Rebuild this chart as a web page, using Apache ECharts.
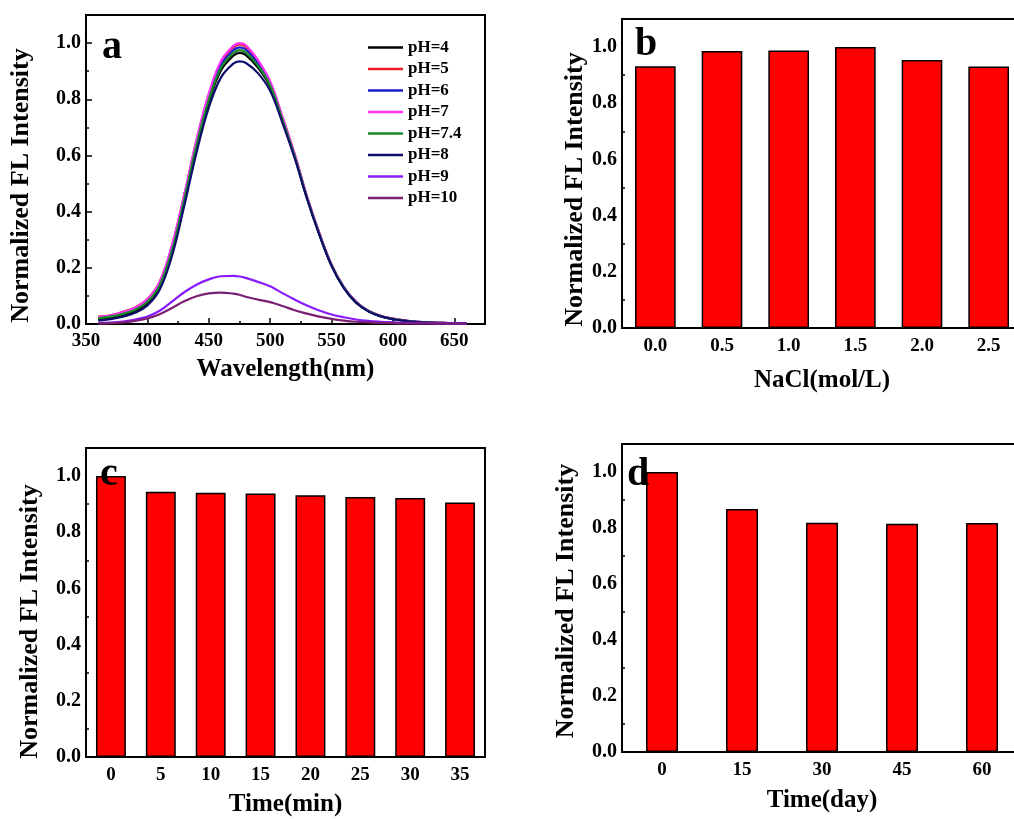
<!DOCTYPE html>
<html>
<head>
<meta charset="utf-8">
<script src="https://cdn.jsdelivr.net/npm/echarts@6/dist/echarts.min.js"></script>
<style>
  html, body { margin: 0; padding: 0; background: #fff; }
  #container { width: 1014px; height: 819px; }
</style>
</head>
<body>
<div id="container"></div>
<script>
// panel a: FL spectra at different pH
var wavelength = [360, 370, 380, 390, 400, 410, 420, 430, 440, 450, 460, 470, 475, 480, 490, 500,
    510, 520, 530, 540, 550, 560, 570, 580, 590, 600, 610, 620, 630, 640, 650, 660];
var pH4 = [0.016, 0.021, 0.031, 0.046, 0.073, 0.132, 0.255, 0.435, 0.628, 0.790, 0.903, 0.955, 0.965, 0.958, 0.913, 0.845,
    0.725, 0.596, 0.449, 0.320, 0.208, 0.129, 0.077, 0.046, 0.028, 0.018, 0.011, 0.007, 0.005, 0.004, 0.003, 0.002];
var pH5 = [0.026, 0.031, 0.043, 0.059, 0.089, 0.150, 0.278, 0.458, 0.652, 0.816, 0.932, 0.985, 0.995, 0.988, 0.936, 0.860,
    0.735, 0.603, 0.453, 0.324, 0.211, 0.131, 0.078, 0.047, 0.029, 0.019, 0.012, 0.008, 0.005, 0.004, 0.003, 0.002];
var pH6 = [0.022, 0.028, 0.039, 0.055, 0.084, 0.145, 0.272, 0.452, 0.645, 0.808, 0.922, 0.975, 0.985, 0.978, 0.928, 0.855,
    0.731, 0.600, 0.451, 0.322, 0.210, 0.130, 0.078, 0.046, 0.028, 0.018, 0.012, 0.008, 0.005, 0.004, 0.003, 0.002];
var pH7 = [0.025, 0.030, 0.042, 0.058, 0.088, 0.150, 0.280, 0.460, 0.655, 0.820, 0.937, 0.990, 1.000, 0.993, 0.940, 0.864,
    0.738, 0.605, 0.455, 0.325, 0.212, 0.132, 0.079, 0.047, 0.029, 0.019, 0.012, 0.008, 0.005, 0.004, 0.003, 0.002];
var pH74 = [0.020, 0.026, 0.036, 0.051, 0.079, 0.138, 0.262, 0.443, 0.636, 0.798, 0.912, 0.965, 0.975, 0.968, 0.920, 0.850,
    0.728, 0.598, 0.450, 0.321, 0.209, 0.130, 0.077, 0.046, 0.028, 0.018, 0.011, 0.007, 0.005, 0.004, 0.003, 0.002];
var pH8 = [0.012, 0.017, 0.026, 0.040, 0.066, 0.122, 0.242, 0.420, 0.610, 0.770, 0.878, 0.927, 0.935, 0.930, 0.893, 0.830,
    0.716, 0.590, 0.446, 0.318, 0.207, 0.128, 0.076, 0.045, 0.027, 0.017, 0.011, 0.007, 0.005, 0.003, 0.002, 0.002];
var pH9 = [0.003, 0.005, 0.009, 0.016, 0.027, 0.047, 0.080, 0.113, 0.140, 0.159, 0.170, 0.171, 0.169, 0.164, 0.150, 0.134,
    0.110, 0.087, 0.066, 0.048, 0.034, 0.024, 0.016, 0.011, 0.008, 0.006, 0.004, 0.003, 0.003, 0.002, 0.002, 0.002];
var pH10 = [0.002, 0.003, 0.006, 0.011, 0.020, 0.035, 0.057, 0.081, 0.099, 0.109, 0.112, 0.108, 0.104, 0.097, 0.087, 0.078,
    0.064, 0.049, 0.037, 0.026, 0.018, 0.012, 0.008, 0.006, 0.004, 0.003, 0.002, 0.002, 0.002, 0.001, 0.001, 0.001];
var phNames = ['pH=4', 'pH=5', 'pH=6', 'pH=7', 'pH=7.4', 'pH=8', 'pH=9', 'pH=10'];
var phColors = ['#000000', '#ee1c25', '#1c1ccc', '#ff33ff', '#1a8a2a', '#0d0d6b', '#8a1aff', '#7a1f73'];
var phSeries = [pH4, pH5, pH6, pH7, pH74, pH8, pH9, pH10];

// panel b: NaCl
var naclConc = ['0.0', '0.5', '1.0', '1.5', '2.0', '2.5'];
var naclFL = [0.932, 0.986, 0.988, 1.000, 0.954, 0.931];

// panel c: time (min)
var timeMin = ['0', '5', '10', '15', '20', '25', '30', '35'];
var timeMinFL = [1.000, 0.944, 0.941, 0.938, 0.932, 0.926, 0.922, 0.906];

// panel d: time (day)
var timeDay = ['0', '15', '30', '45', '60'];
var timeDayFL = [1.000, 0.868, 0.819, 0.815, 0.818];

var FONT = 'Liberation Serif';
var black = '#000';

function txt(size) {
    return { fontFamily: FONT, fontWeight: 'bold', fontSize: size, color: black };
}

function yAxisOpt(gi, gap, shift) {
    return {
        type: 'value', gridIndex: gi, min: 0, max: 1.1, interval: 0.2,
        name: 'Normalized FL Intensity', nameLocation: 'middle', nameGap: gap,
        nameTextStyle: Object.assign(txt(26), { padding: [0, shift * 2, 0, 0] }),
        axisLine: { show: true, lineStyle: { color: black, width: 2 } },
        axisTick: { inside: true, length: 6, lineStyle: { color: black, width: 1.5 } },
        minorTick: { show: true, splitNumber: 2, length: 3, lineStyle: { color: black, width: 1.5 } },
        axisLabel: Object.assign(txt(20), {
            margin: 5,
            formatter: function (v) { return v > 1.05 ? '' : v.toFixed(1); }
        }),
        splitLine: { show: false }
    };
}

function catAxisOpt(gi, cats, name, gap) {
    return {
        type: 'category', gridIndex: gi, data: cats,
        name: name, nameLocation: 'middle', nameGap: gap,
        nameTextStyle: txt(25),
        axisLine: { lineStyle: { color: black, width: 2 } },
        axisTick: { inside: true, length: 4, lineStyle: { color: black, width: 1.5 } },
        axisLabel: Object.assign(txt(19), { margin: 9 }),
        splitLine: { show: false }
    };
}

function barSeries(gi, values, gap) {
    return {
        type: 'bar', xAxisIndex: gi, yAxisIndex: gi, data: values,
        barCategoryGap: gap,
        itemStyle: { color: '#ff0000', borderColor: black, borderWidth: 1.5 }
    };
}

var grids = [
    { left: 86, top: 15, width: 399, height: 309 },
    { left: 622, top: 19, width: 400, height: 309 },
    { left: 86, top: 448, width: 399, height: 309 },
    { left: 622, top: 444, width: 400, height: 308 }
].map(function (g) {
    return Object.assign(g, { show: true, borderColor: black, borderWidth: 2, outerBoundsMode: 'none' });
});

var series = phSeries.map(function (arr, i) {
    return {
        type: 'line', name: phNames[i], xAxisIndex: 0, yAxisIndex: 0,
        data: wavelength.map(function (w, j) { return [w, arr[j]]; }),
        smooth: 0.4, symbol: 'none',
        lineStyle: { color: phColors[i], width: 2.2 },
        itemStyle: { color: phColors[i] }
    };
});
series.push(barSeries(1, naclFL, '39%'));
series.push(barSeries(2, timeMinFL, '40%'));
series.push(barSeries(3, timeDayFL, '60%'));

var option = {
    animation: false,
    backgroundColor: '#fff',
    title: [
        { text: 'a', left: 102, top: 28 },
        { text: 'b', left: 635, top: 25 },
        { text: 'c', left: 100, top: 455 },
        { text: 'd', left: 627, top: 455 }
    ].map(function (t) {
        return Object.assign(t, { padding: 0, textStyle: txt(40) });
    }),
    legend: {
        data: phNames, orient: 'vertical', left: 368, top: 39, padding: 0,
        icon: 'rect', itemWidth: 35, itemHeight: 2.5, itemGap: 4.5,
        textStyle: Object.assign(txt(17), { lineHeight: 17 })
    },
    grid: grids,
    xAxis: [
        {
            type: 'value', gridIndex: 0, min: 350, max: 675, interval: 50,
            name: 'Wavelength(nm)', nameLocation: 'middle', nameGap: 33,
            nameTextStyle: txt(25),
            axisLine: { lineStyle: { color: black, width: 2 } },
            axisTick: { inside: true, length: 6, lineStyle: { color: black, width: 1.5 } },
            minorTick: { show: true, splitNumber: 2, length: 3, lineStyle: { color: black, width: 1.5 } },
            axisLabel: Object.assign(txt(19), {
                margin: 8,
                formatter: function (v) { return v % 50 === 0 ? String(v) : ''; }
            }),
            splitLine: { show: false }
        },
        catAxisOpt(1, naclConc, 'NaCl(mol/L)', 40),
        catAxisOpt(2, timeMin, 'Time(min)', 35),
        catAxisOpt(3, timeDay, 'Time(day)', 36)
    ],
    yAxis: [
        yAxisOpt(0, 52, 16),
        yAxisOpt(1, 32, 16),
        yAxisOpt(2, 43, 19),
        yAxisOpt(3, 43, 3)
    ],
    series: series
};

var myChart = echarts.init(document.getElementById('container'));
myChart.setOption(option);
</script>
</body>
</html>
